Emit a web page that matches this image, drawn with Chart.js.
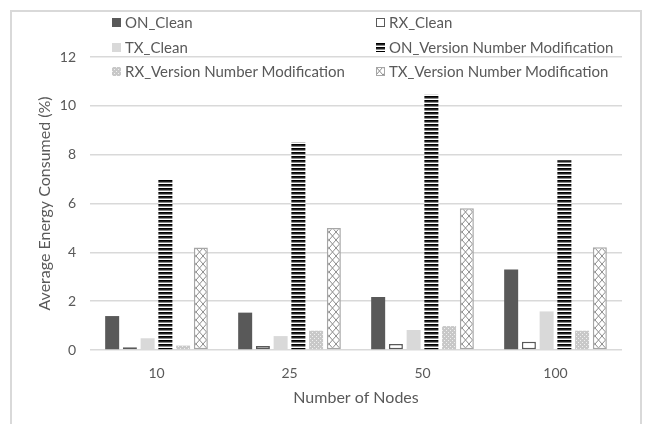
<!DOCTYPE html>
<html>
<head>
<meta charset="utf-8">
<script src="https://cdn.jsdelivr.net/npm/chart.js@4/dist/chart.umd.min.js"></script>
<style>
  html, body { margin: 0; padding: 0; background: #fff; }
  #wrap { position: relative; width: 646px; height: 424px; overflow: hidden; font-family: Lato, "Open Sans", sans-serif; }
  #frame { position: absolute; left: 10px; top: 10px; width: 632px; height: 430px; border: 2px solid #d9d9d9; box-sizing: border-box; pointer-events: none; }
  #c { position: absolute; left: 0; top: 0; }
  .lg { position: absolute; display: flex; align-items: center; font-size: 15px; color: #595959; white-space: nowrap; line-height: 16px; }
  .lg canvas { margin-right: 4px; }
</style>
</head>
<body>
<div id="wrap">
  <div id="frame"></div>
  <canvas id="c" width="646" height="424"></canvas>
  <div id="legend"></div>
</div>
<script>
const categories = ["10", "25", "50", "100"];
const seriesNames = ["ON_Clean", "RX_Clean", "TX_Clean", "ON_Version Number Modification", "RX_Version Number Modification", "TX_Version Number Modification"];
const onClean = [1.39, 1.53, 2.17, 3.30];
const rxClean = [0.11, 0.16, 0.25, 0.34];
const txClean = [0.48, 0.57, 0.82, 1.58];
const onVNM = [7.0, 8.5, 10.45, 7.77];
const rxVNM = [0.18, 0.79, 0.98, 0.79];
const txVNM = [4.2, 5.0, 5.81, 4.21];
const yTicks = [0, 2, 4, 6, 8, 10, 12];

function makePattern(kind) {
  const p = document.createElement('canvas');
  const ctx = p.getContext('2d');
  if (kind === 'stripes') {
    p.width = 4; p.height = 4;
    const cols = ['#000000', '#222222', '#8a8a8a', '#ffffff'];
    cols.forEach((c, i) => { ctx.fillStyle = c; ctx.fillRect(0, i, 4, 1); });
  } else if (kind === 'dots') {
    p.width = 4; p.height = 4;
    ctx.fillStyle = '#c8c8c8'; ctx.fillRect(0, 0, 4, 4);
    ctx.fillStyle = '#f0f0f0'; ctx.fillRect(0, 0, 1, 1); ctx.fillRect(2, 2, 1, 1);
  } else if (kind === 'cross') {
    p.width = 7; p.height = 8;
    ctx.fillStyle = '#ffffff'; ctx.fillRect(0, 0, 7, 8);
    ctx.strokeStyle = '#8c8c8c'; ctx.lineWidth = 1;
    ctx.beginPath(); ctx.moveTo(0, 0); ctx.lineTo(7, 8); ctx.moveTo(7, 0); ctx.lineTo(0, 8); ctx.stroke();
  }
  return document.createElement('canvas').getContext('2d').createPattern(p, 'repeat');
}

const styles = [
  { bg: '#595959', border: '#595959', bw: 0 },
  { bg: '#ffffff', border: '#595959', bw: 1.5 },
  { bg: '#d9d9d9', border: '#d9d9d9', bw: 0 },
  { bg: makePattern('stripes'), border: '#404040', bw: 0 },
  { bg: makePattern('dots'), border: '#c8c8c8', bw: 0 },
  { bg: makePattern('cross'), border: '#a6a6a6', bw: 1.5 }
];
const values = [onClean, rxClean, txClean, onVNM, rxVNM, txVNM];

const datasets = seriesNames.map((n, i) => ({
  label: n,
  data: values[i],
  backgroundColor: styles[i].bg,
  borderColor: styles[i].border,
  borderWidth: styles[i].bw,
  borderSkipped: false,
  categoryPercentage: 0.8,
  barPercentage: 0.79
}));

const FONT = 'Lato';
new Chart(document.getElementById('c'), {
  type: 'bar',
  data: { labels: categories, datasets },
  options: {
    responsive: false,
    animation: false,
    devicePixelRatio: 1,
    layout: { padding: { left: 0, right: 24, top: 57, bottom: 0 } },
    plugins: { legend: { display: false }, tooltip: { enabled: false } },
    scales: {
      x: {
        grid: { display: false },
        border: { display: false },
        ticks: { color: '#595959', font: { family: FONT, size: 14 }, padding: 7 },
        title: { display: true, text: 'Number of Nodes', color: '#595959', font: { family: FONT, size: 16 }, padding: { top: 4, bottom: 17 } },
        afterFit: s => { s.height = 74; }
      },
      y: {
        min: 0, max: 12,
        afterBuildTicks: s => { s.ticks = yTicks.map(v => ({ value: v })); },
        grid: { color: '#d9d9d9', lineWidth: 1.5, drawTicks: false },
        border: { display: false },
        ticks: { color: '#595959', font: { family: FONT, size: 14 }, padding: 14 },
        title: { display: true, text: 'Average Energy Consumed (%)', color: '#595959', font: { family: FONT, size: 16 }, padding: { top: 35, bottom: 0 } },
        afterFit: s => { s.width = 90; }
      }
    }
  }
});

// HTML legend in two columns (row-major order as in reference)
const legend = document.getElementById('legend');
const colX = [112, 376];
const rowY = [22, 47, 71];
seriesNames.forEach((n, i) => {
  const col = i % 2, row = Math.floor(i / 2);
  const d = document.createElement('div');
  d.className = 'lg';
  d.style.left = colX[col] + 'px';
  d.style.top = (rowY[row] - 8) + 'px';
  const sw = document.createElement('canvas');
  sw.width = 9; sw.height = 9;
  const ctx = sw.getContext('2d');
  ctx.fillStyle = styles[i].bg;
  ctx.fillRect(0, 0, 9, 9);
  if (styles[i].bw > 0) {
    ctx.strokeStyle = styles[i].border; ctx.lineWidth = 1;
    ctx.strokeRect(0.5, 0.5, 8, 8);
  }
  d.appendChild(sw);
  const t = document.createElement('span');
  t.textContent = n;
  d.appendChild(t);
  legend.appendChild(d);
});
</script>
</body>
</html>
